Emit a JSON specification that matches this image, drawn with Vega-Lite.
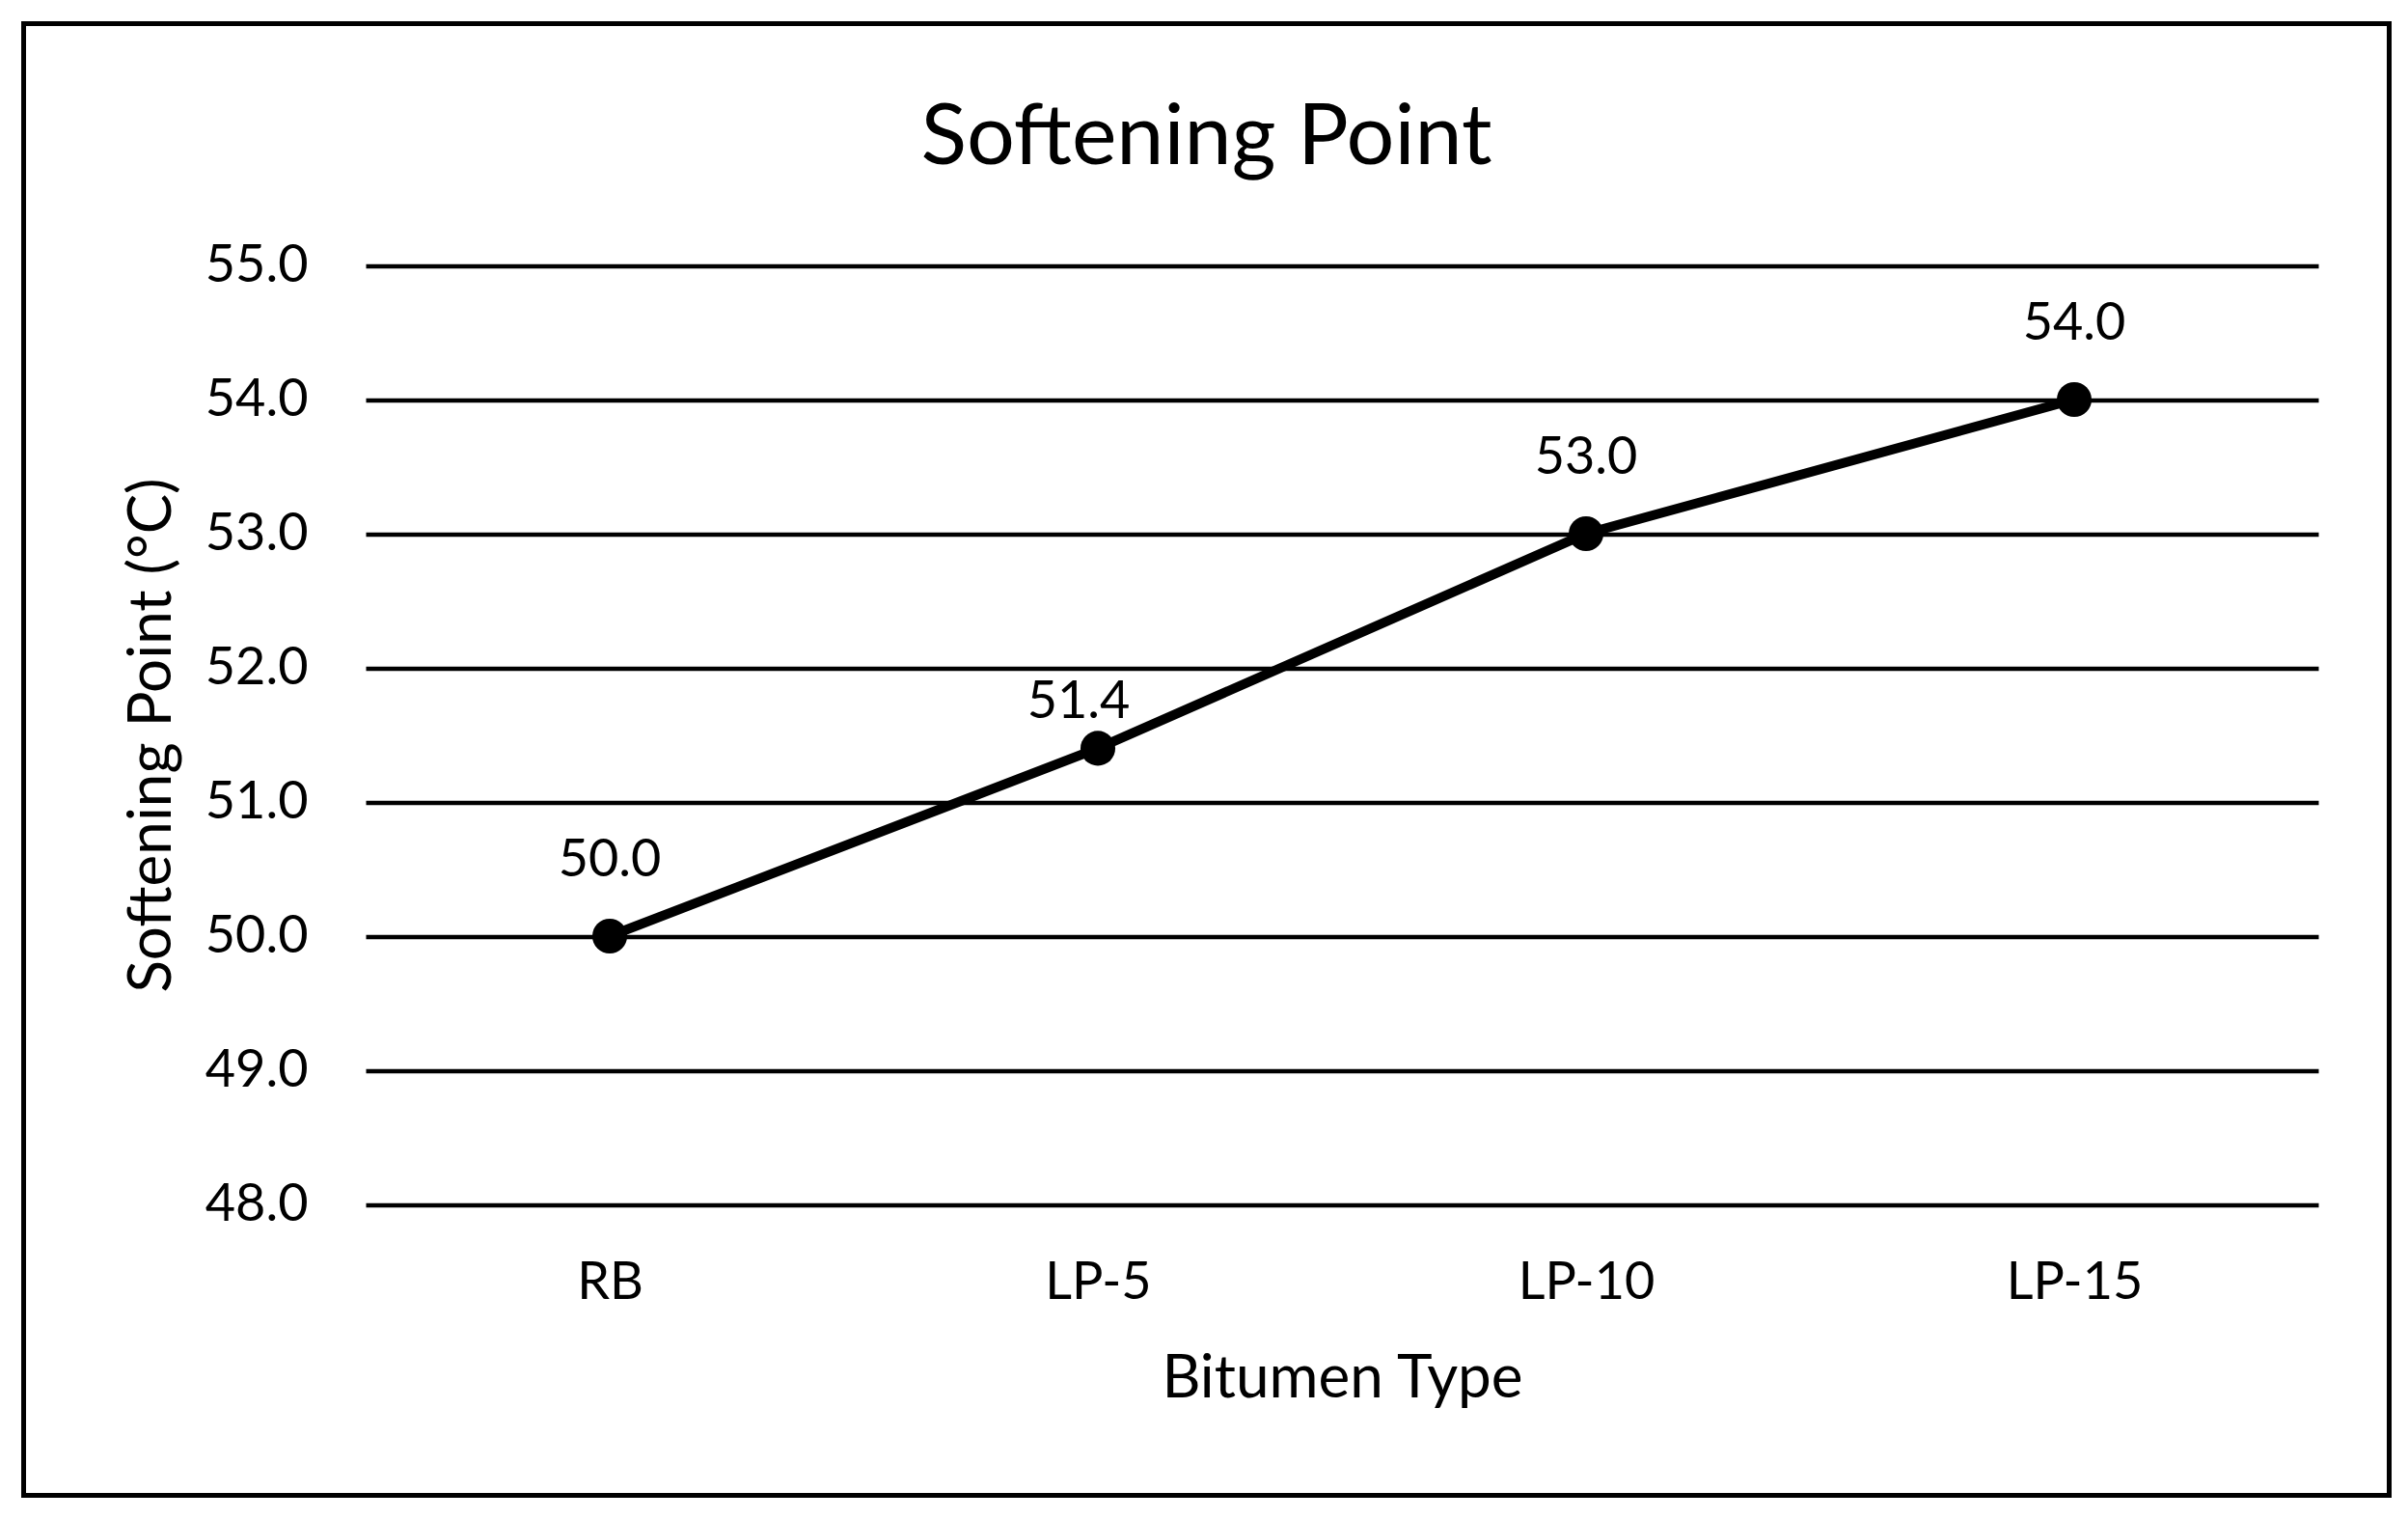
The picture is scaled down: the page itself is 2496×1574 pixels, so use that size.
{
  "$schema": "https://vega.github.io/schema/vega-lite/v6.json",
  "autosize": {"type": "none"},
  "padding": {"left": 24.5, "top": 24.5, "right": 19.5, "bottom": 24.5},
  "width": 2452,
  "height": 1525,
  "background": "white",
  "title": {"text": "Softening Point", "font": "Lato", "fontSize": 88, "fontWeight": "normal", "color": "#000", "baseline": "alphabetic", "offset": -142.5, "dy": 91, "frame": "group", "anchor": "middle"},
  "data": {"values": [
    {"type": "RB", "value": 50.0},
    {"type": "LP-5", "value": 51.4},
    {"type": "LP-10", "value": 53.0},
    {"type": "LP-15", "value": 54.0}
  ]},
  "encoding": {
    "x": {"field": "type", "type": "nominal", "sort": null,
      "scale": {"type": "point", "range": [354.5, 2378.5], "padding": 0.5},
      "axis": {"title": "Bitumen Type", "offset": -301.5, "domain": false, "ticks": false, "tickSize": 0, "grid": false,
        "labelFont": "Lato", "labelFontSize": 54, "labelColor": "#000", "labelAngle": 0, "labelBaseline": "alphabetic", "labelPadding": 97,
        "titleFont": "Lato", "titleFontSize": 62, "titleFontWeight": "normal", "titleColor": "#000", "titleBaseline": "alphabetic", "titleY": 199}},
    "y": {"field": "value", "type": "quantitative",
      "scale": {"domain": [48, 55], "range": [1223.5, 250.5], "zero": false, "nice": false},
      "axis": {"title": "Softening Point (°C)", "offset": -354.5, "values": [48, 49, 50, 51, 52, 53, 54, 55], "format": ".1f",
        "grid": true, "gridColor": "#000", "gridWidth": 4.5, "gridOpacity": 1, "domain": false, "ticks": false, "tickSize": 0,
        "labelFont": "Lato", "labelFontSize": 54, "labelColor": "#000", "labelPadding": 60,
        "titleFont": "Lato", "titleFontSize": 62, "titleFontWeight": "normal", "titleColor": "#000", "titleBaseline": "alphabetic",
        "titleAngle": 270, "titleX": -203, "titleY": 737}}
  },
  "layer": [
    {"mark": {"type": "line", "color": "#000", "strokeWidth": 10}},
    {"mark": {"type": "point", "filled": true, "color": "#000", "size": 1300, "opacity": 1}},
    {"transform": [{"filter": "datum.type !== 'LP-5'"}],
      "mark": {"type": "text", "font": "Lato", "fontSize": 54, "dy": -62, "baseline": "alphabetic", "color": "#000"},
      "encoding": {"text": {"field": "value", "type": "quantitative", "format": ".1f"}}},
    {"transform": [{"filter": "datum.type === 'LP-5'"}],
      "mark": {"type": "text", "font": "Lato", "fontSize": 54, "dy": -31, "dx": -20, "baseline": "alphabetic", "color": "#000"},
      "encoding": {"text": {"field": "value", "type": "quantitative", "format": ".1f"}}}
  ],
  "config": {"view": {"stroke": "#000", "strokeWidth": 5}}
}
